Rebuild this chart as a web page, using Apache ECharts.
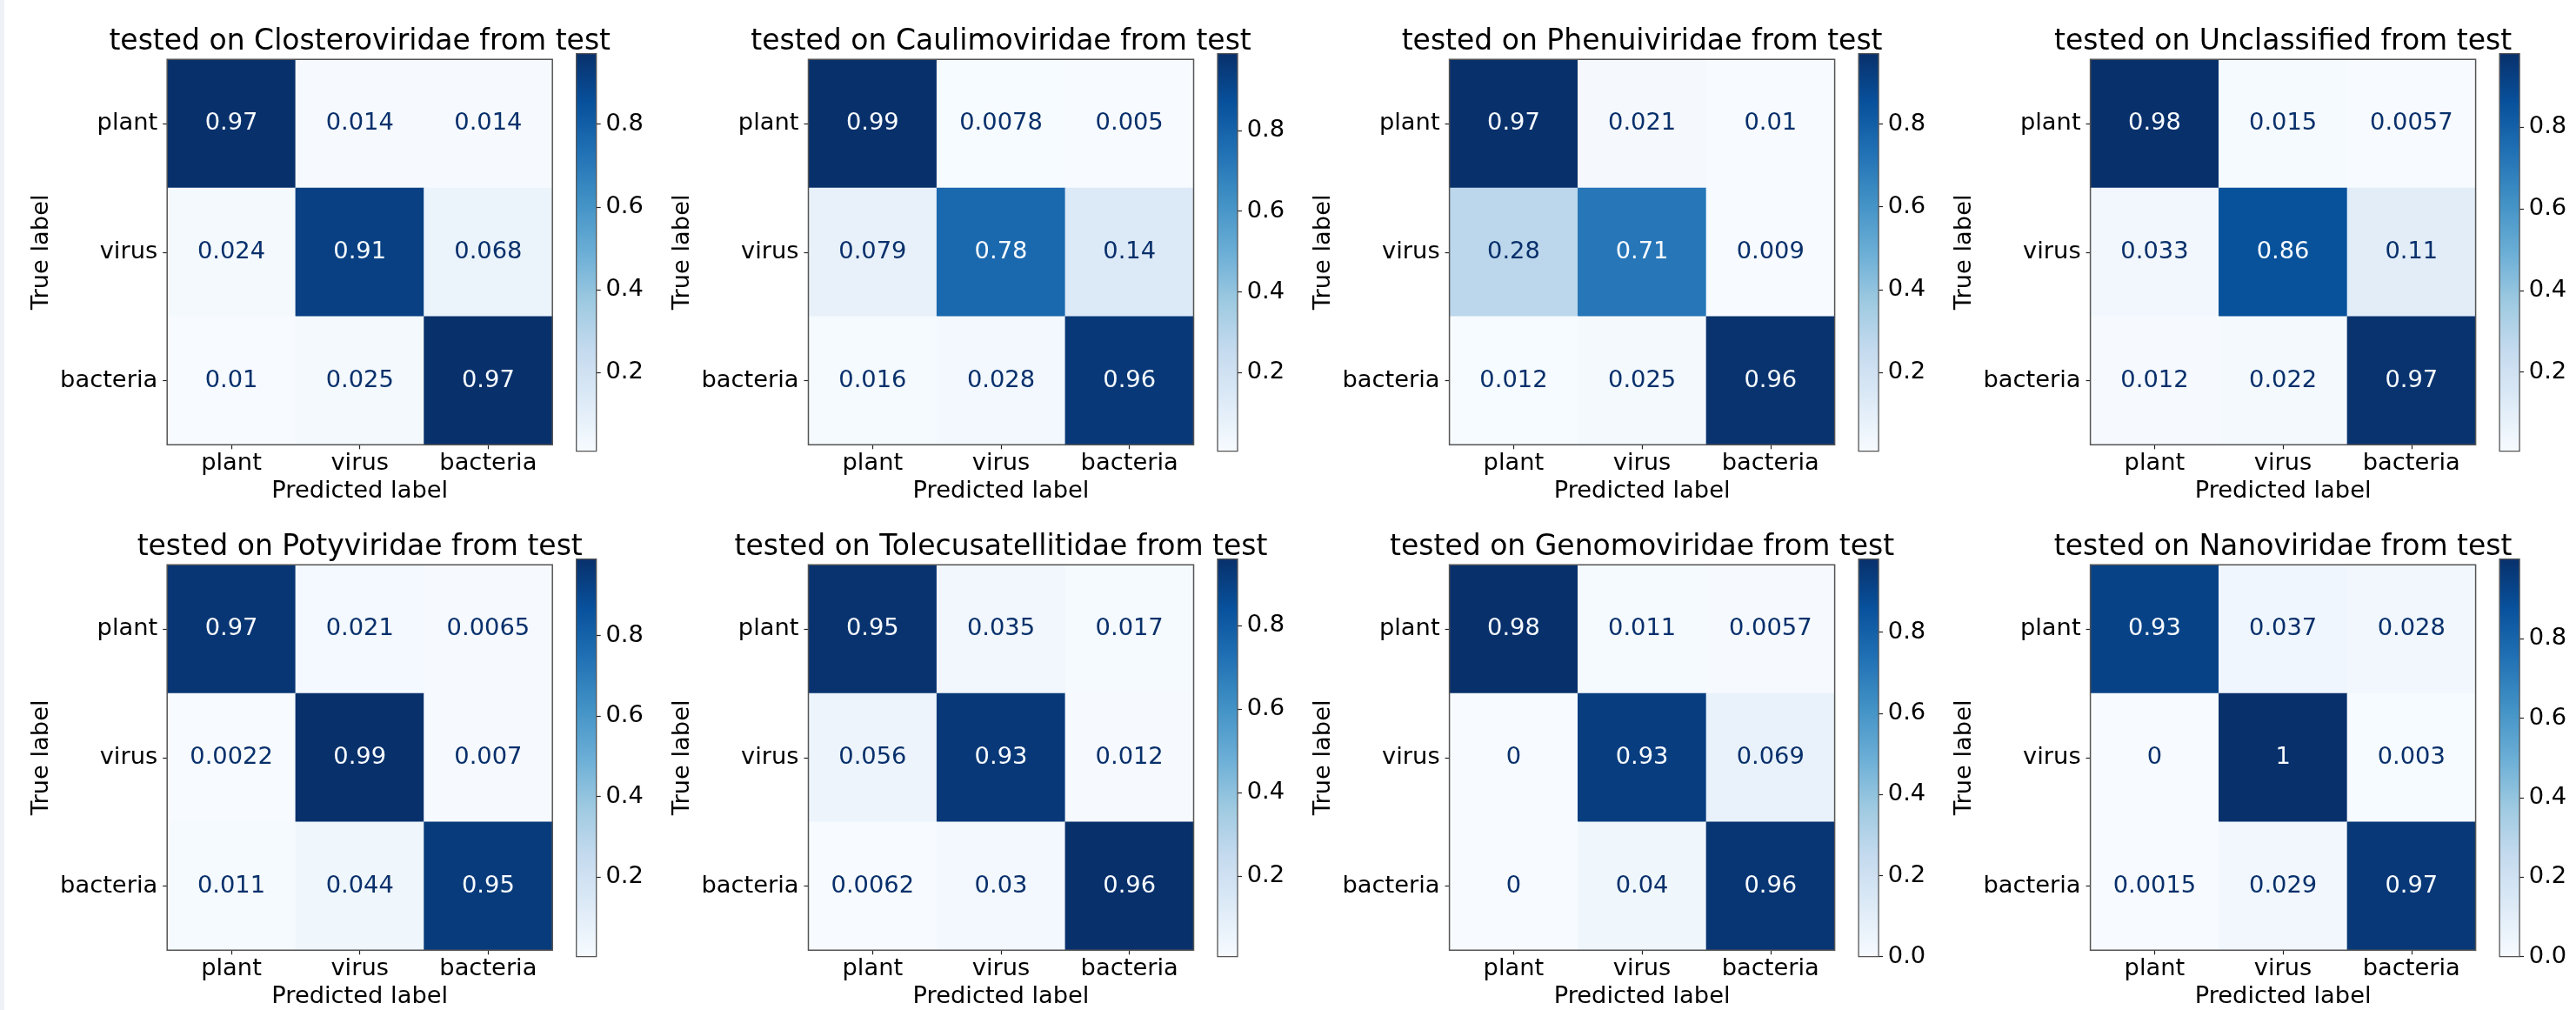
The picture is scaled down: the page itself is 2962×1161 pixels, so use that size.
<!DOCTYPE html>
<html>
<head>
<meta charset="utf-8">
<script src="https://cdn.jsdelivr.net/npm/echarts@6/dist/echarts.min.js"></script>
<style>
  html, body { margin: 0; padding: 0; background: #ffffff; }
  #edge { position: absolute; left: 0; top: 0; width: 5px; height: 1161px; background: #eef2f7; z-index: 2; }
  #chart { position: absolute; left: 0; top: 0; width: 2962px; height: 1161px; }
</style>
</head>
<body>
<div id="edge"></div>
<div id="chart"></div>
<script>
// Class labels (rows = true label, columns = predicted label)
const trueLabels = ['plant', 'virus', 'bacteria'];
const predLabels = ['plant', 'virus', 'bacteria'];

// Held-out virus family used in each panel
const families = [
  'Closteroviridae', 'Caulimoviridae', 'Phenuiviridae', 'Unclassified',
  'Potyviridae', 'Tolecusatellitidae', 'Genomoviridae', 'Nanoviridae'
];

// Row-normalised confusion matrices
const closteroviridae = [[0.97, 0.014, 0.014], [0.024, 0.91, 0.068], [0.01, 0.025, 0.97]];
const caulimoviridae = [[0.99, 0.0078, 0.005], [0.079, 0.78, 0.14], [0.016, 0.028, 0.96]];
const phenuiviridae = [[0.97, 0.021, 0.01], [0.28, 0.71, 0.009], [0.012, 0.025, 0.96]];
const unclassified = [[0.98, 0.015, 0.0057], [0.033, 0.86, 0.11], [0.012, 0.022, 0.97]];
const potyviridae = [[0.97, 0.021, 0.0065], [0.0022, 0.99, 0.007], [0.011, 0.044, 0.95]];
const tolecusatellitidae = [[0.95, 0.035, 0.017], [0.056, 0.93, 0.012], [0.0062, 0.03, 0.96]];
const genomoviridae = [[0.98, 0.011, 0.0057], [0, 0.93, 0.069], [0, 0.04, 0.96]];
const nanoviridae = [[0.93, 0.037, 0.028], [0, 1, 0.003], [0.0015, 0.029, 0.97]];

// Colour-bar tick labels for each panel
const colorbarTicks = [
  [0.2, 0.4, 0.6, 0.8], [0.2, 0.4, 0.6, 0.8], [0.2, 0.4, 0.6, 0.8], [0.2, 0.4, 0.6, 0.8],
  [0.2, 0.4, 0.6, 0.8], [0.2, 0.4, 0.6, 0.8], [0.0, 0.2, 0.4, 0.6, 0.8], [0.0, 0.2, 0.4, 0.6, 0.8]
];

const matrices = [closteroviridae, caulimoviridae, phenuiviridae, unclassified,
                  potyviridae, tolecusatellitidae, genomoviridae, nanoviridae];

// Matplotlib "Blues" colormap
const blues = ['#f7fbff', '#deebf7', '#c6dbef', '#9ecae1', '#6baed6',
               '#4292c6', '#2171b5', '#08519c', '#08306b'];

// Panel layout
const FONT = '"DejaVu Sans", "Liberation Sans", sans-serif';
const colLeft = [192.2, 929.5, 1666.6, 2403.6];
const rowTop = [68.3, 649.3];
const PLOT = 443;
const CB_DX = 470.5, CB_W = 23, CB_DY = -6.6, CB_H = 457;
const FS = 27.3, TITLE_FS = 33;

const grids = [], xAxes = [], yAxes = [], series = [], visualMaps = [], graphics = [];

matrices.forEach((m, i) => {
  const left = colLeft[i % 4], top = rowTop[Math.floor(i / 4)];
  const flat = m.flat();
  const vmin = Math.min(...flat), vmax = Math.max(...flat);
  const thresh = (vmin + vmax) / 2;
  const gHeat = grids.length, gBar = gHeat + 1;

  grids.push({ left: left, top: top, width: PLOT, height: PLOT });
  grids.push({ left: left + CB_DX, top: top + CB_DY, width: CB_W, height: CB_H });

  xAxes.push({
    type: 'category', gridIndex: gHeat, data: predLabels, position: 'bottom',
    axisLine: { show: false },
    axisTick: { show: true, alignWithLabel: true, length: 5, lineStyle: { color: '#222', width: 1.2 } },
    axisLabel: { fontSize: FS, fontFamily: FONT, color: '#000', margin: 8.2 },
    splitLine: { show: false }
  });
  yAxes.push({
    type: 'category', gridIndex: gHeat, data: trueLabels, inverse: true,
    axisLine: { show: false },
    axisTick: { show: true, alignWithLabel: true, length: 5, lineStyle: { color: '#222', width: 1.2 } },
    axisLabel: { fontSize: FS, fontFamily: FONT, color: '#000', margin: 11 },
    splitLine: { show: false }
  });

  // colour-bar axes
  xAxes.push({ type: 'category', gridIndex: gBar, data: [''], show: false });
  yAxes.push({
    type: 'value', gridIndex: gBar, min: vmin, max: vmax, position: 'right',
    axisLine: { show: false },
    splitLine: { show: false },
    axisTick: { show: true, inside: false, length: 5, customValues: colorbarTicks[i],
                lineStyle: { color: '#222', width: 1.2 } },
    axisLabel: { show: true, customValues: colorbarTicks[i], margin: 10.7, fontSize: FS,
                 fontFamily: FONT, color: '#000', formatter: v => Number(v).toFixed(1) }
  });

  const heatIndex = series.length;
  series.push({
    type: 'heatmap', xAxisIndex: gHeat, yAxisIndex: gHeat,
    data: m.flatMap((row, r) => row.map((v, c) => ({
      value: [c, r, v],
      label: { color: v >= thresh ? blues[0] : blues[8] }
    }))),
    label: {
      show: true, fontSize: FS, fontFamily: FONT,
      formatter: p => String(p.value[2])
    },
    itemStyle: { borderWidth: 0 },
    emphasis: { disabled: true }
  });

  series.push({
    type: 'custom', xAxisIndex: gBar, yAxisIndex: gBar,
    data: [[0, vmin, vmax]],
    silent: true,
    renderItem: (params, api) => {
      const lo = api.coord([0, api.value(1)]);
      const hi = api.coord([0, api.value(2)]);
      const bw = api.size([1, 0])[0];
      return {
        type: 'rect',
        shape: { x: lo[0] - bw / 2, y: hi[1], width: bw, height: lo[1] - hi[1] },
        style: {
          fill: new echarts.graphic.LinearGradient(0, 1, 0, 0,
            blues.map((c, k) => ({ offset: k / (blues.length - 1), color: c }))),
          stroke: '#555', lineWidth: 1.3
        }
      };
    }
  });

  visualMaps.push({
    type: 'continuous', show: false, seriesIndex: heatIndex, dimension: 2,
    min: vmin, max: vmax, inRange: { color: blues }
  });

  // frame, title and axis names
  graphics.push({
    type: 'rect', z: 100, silent: true,
    shape: { x: left, y: top, width: PLOT, height: PLOT },
    style: { fill: null, stroke: '#555', lineWidth: 1.5 }
  });
  graphics.push({
    type: 'text', z: 100, silent: true,
    style: {
      text: 'tested on ' + families[i] + ' from test',
      x: left + PLOT / 2, y: top - 19.7,
      font: TITLE_FS + 'px ' + FONT, fill: '#000',
      align: 'center', verticalAlign: 'middle',
      textAlign: 'center', textVerticalAlign: 'middle'
    }
  });
  graphics.push({
    type: 'text', z: 100, silent: true,
    style: {
      text: 'Predicted label',
      x: left + PLOT / 2, y: top + 496.6,
      font: FS + 'px ' + FONT, fill: '#000',
      align: 'center', verticalAlign: 'middle',
      textAlign: 'center', textVerticalAlign: 'middle'
    }
  });
  graphics.push({
    type: 'text', z: 100, silent: true,
    x: left - 144.7, y: top + PLOT / 2, rotation: Math.PI / 2,
    style: {
      text: 'True label', x: 0, y: 0,
      font: FS + 'px ' + FONT, fill: '#000',
      align: 'center', verticalAlign: 'middle',
      textAlign: 'center', textVerticalAlign: 'middle'
    }
  });
});

const chart = echarts.init(document.getElementById('chart'));
chart.setOption({
  backgroundColor: '#ffffff',
  animation: false,
  grid: grids,
  xAxis: xAxes,
  yAxis: yAxes,
  visualMap: visualMaps,
  series: series,
  graphic: graphics
});
</script>
</body>
</html>
